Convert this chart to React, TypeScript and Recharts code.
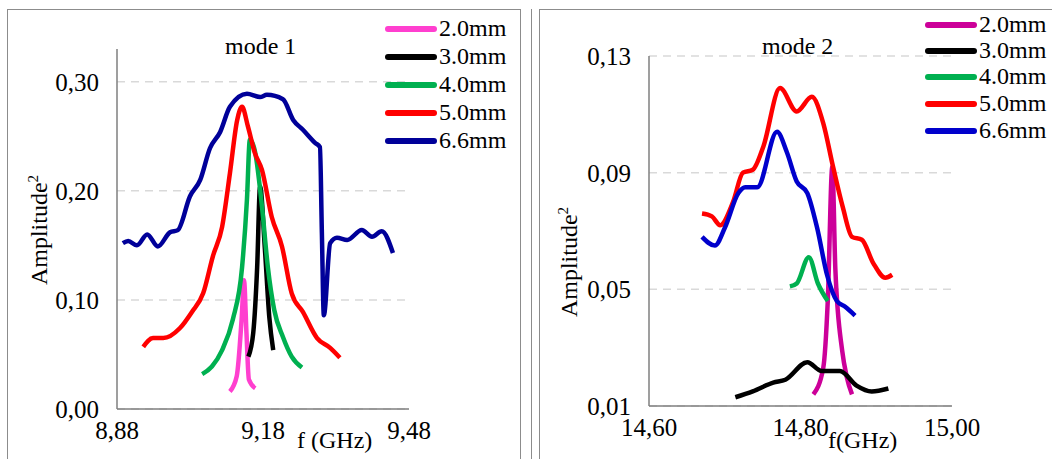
import React from 'react';
import { LineChart, Line, XAxis, YAxis, CartesianGrid } from 'recharts';

const labels = ['2.0mm', '3.0mm', '4.0mm', '5.0mm', '6.6mm'];
const colors1 = ['#FF3FCF', '#000000', '#00B050', '#FF0000', '#000099'];
const colors2 = ['#CC0099', '#000000', '#00B050', '#FF0000', '#0000CC'];

const m1_2mm = [[9.112,0.016],[9.126,0.030],[9.136,0.082],[9.141,0.118],[9.146,0.070],[9.151,0.027],[9.164,0.019]];
const m1_3mm = [[9.150,0.048],[9.160,0.070],[9.168,0.130],[9.174,0.204],[9.184,0.146],[9.193,0.084],[9.201,0.054]];
const m1_4mm = [[9.055,0.032],[9.075,0.039],[9.096,0.054],[9.118,0.082],[9.137,0.130],[9.147,0.192],[9.153,0.247],[9.164,0.235],[9.178,0.185],[9.190,0.130],[9.203,0.091],[9.221,0.066],[9.239,0.048],[9.260,0.038]];
const m1_5mm = [[8.934,0.057],[8.954,0.065],[8.975,0.065],[9.009,0.074],[9.034,0.089],[9.057,0.106],[9.077,0.140],[9.096,0.167],[9.112,0.216],[9.127,0.265],[9.137,0.277],[9.149,0.259],[9.163,0.235],[9.178,0.219],[9.198,0.176],[9.219,0.149],[9.239,0.106],[9.262,0.089],[9.291,0.065],[9.318,0.056],[9.338,0.047]];
const m1_66mm = [[8.892,0.152],[8.903,0.154],[8.921,0.150],[8.942,0.160],[8.964,0.149],[8.989,0.162],[9.005,0.164],[9.030,0.195],[9.051,0.210],[9.071,0.239],[9.092,0.254],[9.112,0.277],[9.147,0.289],[9.174,0.286],[9.188,0.288],[9.221,0.284],[9.242,0.265],[9.262,0.256],[9.287,0.244],[9.297,0.240],[9.301,0.161],[9.305,0.086],[9.318,0.152],[9.332,0.157],[9.353,0.155],[9.383,0.164],[9.404,0.158],[9.424,0.163],[9.447,0.143]];

const m2_2mm = [[14.817,0.014],[14.830,0.023],[14.836,0.046],[14.842,0.092],[14.846,0.057],[14.855,0.029],[14.861,0.020],[14.868,0.014]];
const m2_3mm = [[14.714,0.013],[14.737,0.015],[14.764,0.018],[14.780,0.019],[14.809,0.025],[14.828,0.022],[14.852,0.022],[14.874,0.017],[14.894,0.015],[14.916,0.016]];
const m2_4mm = [[14.786,0.051],[14.795,0.052],[14.811,0.061],[14.823,0.052],[14.836,0.046]];
const m2_5mm = [[14.670,0.076],[14.683,0.075],[14.694,0.072],[14.711,0.080],[14.724,0.090],[14.737,0.091],[14.751,0.099],[14.773,0.119],[14.795,0.111],[14.815,0.116],[14.830,0.107],[14.843,0.092],[14.856,0.078],[14.868,0.068],[14.881,0.067],[14.896,0.059],[14.912,0.054],[14.921,0.055]];
const m2_66mm = [[14.670,0.068],[14.687,0.065],[14.700,0.071],[14.718,0.083],[14.727,0.085],[14.743,0.085],[14.769,0.104],[14.782,0.097],[14.795,0.087],[14.809,0.083],[14.822,0.071],[14.835,0.055],[14.848,0.046],[14.859,0.044],[14.872,0.041]];

const xTicks1 = [8.88, 9.18, 9.48];
const yTicks1 = [0, 0.1, 0.2, 0.3];
const xTicks2 = [14.6, 14.8, 15.0];
const yTicks2 = [0.01, 0.05, 0.09, 0.13];

const toPts = (a: number[][]) => a.map(([x, y]) => ({ x, y }));
const font = '"Liberation Serif", "DejaVu Serif", serif';
const FS = 24;
const tickStyle = { fontFamily: font, fontSize: 25, fill: '#000' };

function Panel({ series, colors, xTicks, yTicks, xDom, yDom, width, margin }: any) {
  return (
    <LineChart width={width} height={459} margin={margin}>
      <CartesianGrid horizontal vertical={false} syncWithTicks stroke="#d9d9d9" strokeDasharray="8 6" strokeWidth={1.5} />
      <XAxis type="number" dataKey="x" domain={xDom} ticks={xTicks} allowDataOverflow
        tickFormatter={(v: number) => v.toFixed(2).replace('.', ',')} tick={tickStyle}
        tickLine={false} axisLine={{ stroke: '#7f7f7f', strokeWidth: 1.5 }} height={40} tickMargin={6} />
      <YAxis type="number" dataKey="y" domain={yDom} ticks={yTicks} allowDataOverflow
        tickFormatter={(v: number) => v.toFixed(2).replace('.', ',')} tick={tickStyle}
        tickLine={false} axisLine={{ stroke: '#7f7f7f', strokeWidth: 1.5 }} width={60} tickMargin={12} />
      {series.map((s: number[][], i: number) => (
        <Line key={i} data={toPts(s)} dataKey="y" type="monotone" stroke={colors[i]} strokeWidth={4.5}
          dot={false} isAnimationActive={false} />
      ))}
    </LineChart>
  );
}

const txt = (extra: any) => ({ position: 'absolute' as const, fontFamily: font, fontSize: FS, color: '#000', whiteSpace: 'nowrap' as const, lineHeight: '24px', ...extra });

function Legend({ colors, lx, ys }: any) {
  return (
    <>
      {labels.map((l, i) => (
        <React.Fragment key={l}>
          <div style={{ position: 'absolute', left: lx, top: ys[i] - 3, width: 52, height: 6, borderRadius: 3, background: colors[i] }} />
          <div style={txt({ left: lx + 54, top: ys[i] - 13 })}>{l}</div>
        </React.Fragment>
      ))}
    </>
  );
}

export default function App() {
  return (
    <div style={{ position: 'absolute', left: 0, top: 0, width: 1052, height: 459, background: '#fff', overflow: 'hidden' }}>
      <div style={{ position: 'absolute', left: 7, top: 9, width: 512, height: 470, border: '1.5px solid #8c8c8c' }} />
      <div style={{ position: 'absolute', left: 531, top: 9, width: 2, height: 470, borderLeft: '1.5px solid #8c8c8c' }} />
      <div style={{ position: 'absolute', left: 539, top: 9, width: 520, height: 470, border: '1.5px solid #8c8c8c' }} />
      <div style={{ position: 'absolute', left: 0, top: 0 }}>
        <Panel series={[m1_2mm, m1_3mm, m1_4mm, m1_5mm, m1_66mm]} colors={colors1} xTicks={xTicks1} yTicks={yTicks1}
          xDom={[8.88, 9.48]} yDom={[0, 0.33]} width={530} margin={{ top: 49, right: 121, left: 57, bottom: 10 }} />
      </div>
      <div style={{ position: 'absolute', left: 530, top: 0 }}>
        <Panel series={[m2_2mm, m2_3mm, m2_4mm, m2_5mm, m2_66mm]} colors={colors2} xTicks={xTicks2} yTicks={yTicks2}
          xDom={[14.6, 15.0]} yDom={[0.01, 0.13]} width={522} margin={{ top: 56, right: 100, left: 59, bottom: 13 }} />
      </div>
      <div style={txt({ left: 225, top: 34 })}>mode 1</div>
      <div style={txt({ left: 762, top: 34 })}>mode 2</div>
      <div style={txt({ left: 297, top: 428 })}>f (GHz)</div>
      <div style={txt({ left: 828, top: 428 })}>f(GHz)</div>
      <div style={txt({ left: 36, top: 230, transform: 'translate(-50%,-50%) rotate(-90deg)', transformOrigin: 'center' })}>Amplitude<sup style={{ fontSize: 15 }}>2</sup></div>
      <div style={txt({ left: 566, top: 262, transform: 'translate(-50%,-50%) rotate(-90deg)', transformOrigin: 'center' })}>Amplitude<sup style={{ fontSize: 15 }}>2</sup></div>
      <Legend colors={colors1} lx={385} ys={[29, 57, 85, 113, 141]} />
      <Legend colors={colors2} lx={925} ys={[25, 51, 77, 104, 131]} />
    </div>
  );
}
